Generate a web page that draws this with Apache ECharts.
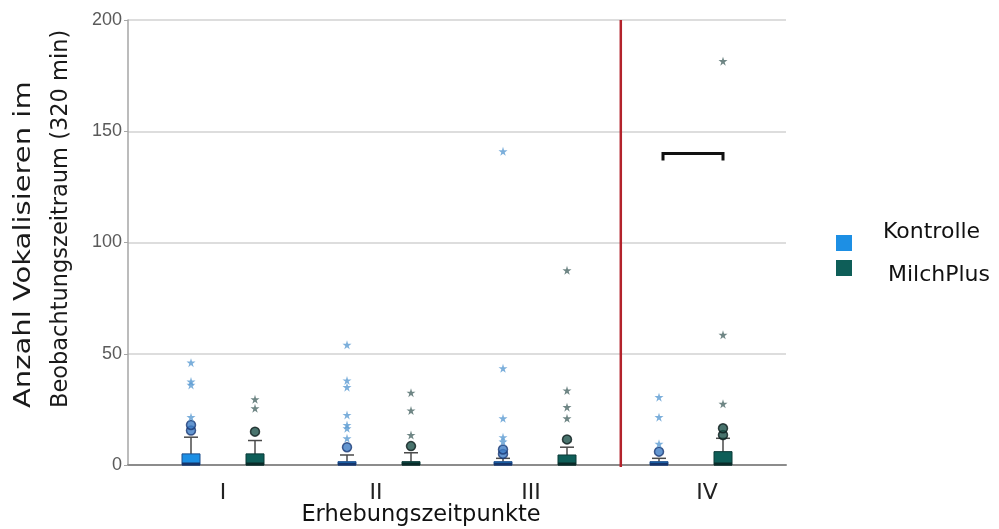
<!DOCTYPE html>
<html><head><meta charset="utf-8">
<script src="https://cdn.jsdelivr.net/npm/echarts@6/dist/echarts.min.js"></script>
<style>html,body{margin:0;padding:0;background:#fff}#c{width:999px;height:529px}</style>
</head><body><div id="c"></div>
<script>
// ---------------- data ----------------
const categories = ['I', 'II', 'III', 'IV'];
const seriesNames = ['Kontrolle', 'MilchPlus'];
const yTicks = [0, 50, 100, 150, 200];
// box statistics per time point: [min, Q1, median, Q3, max]
const kontrolleBox = [[0, 0, 0, 5, 12.5], [0, 0, 0, 1.5, 4.5], [0, 0, 0, 1.5, 3], [0, 0, 0, 1.5, 3]];
const milchBox     = [[0, 0, 0, 5, 11],   [0, 0, 0, 1.5, 5.5], [0, 0, 0, 4.5, 8], [0, 0, 0, 6, 12]];
// outliers (circles) and extreme values (stars)
const kontrolleCircles = [[15.5, 18], [8], [5, 7], [6]];
const kontrolleStars   = [[21.5, 36, 37.5, 46], [12, 16.5, 18, 22.5, 35, 38, 54], [10.5, 12.5, 21, 43.5, 141], [9.5, 21.5, 30.5]];
const milchCircles     = [[15], [8.5], [11.5], [13.5, 16.5]];
const milchStars       = [[25.5, 29.5], [13.5, 24.5, 32.5], [21, 26, 33.5, 87.5], [27.5, 58.5, 181.5]];
// significance bracket at time point IV, and divider after time point III
const bracketCategory = 'IV';
const bracketValues = [140, 136.8];
const dividerAfter = 'III';

// ---------------- styling ----------------
const FONT = 'DejaVu Sans';
const OFF = 32;        // px offset of each group's box from category centre
const BOXW = 18;
const colors = {
  Kontrolle: {fill: '#1d8fe4', border: '#1f4f8c', median: '#16346a', star: '#5b9bd2', cFill: '#3d7cc4', cBorder: '#1b3a74'},
  MilchPlus: {fill: '#0e5e58', border: '#0b3a37', median: '#0a2b29', star: '#4b6866', cFill: '#1b5048', cBorder: '#0c1c1b'}
};
const STAR = 'path://M50,0 L61,35 L98,35 L68,57 L79,91 L50,70 L21,91 L32,57 L2,35 L39,35 Z';
const labelPad = {I: [0, 0, 0, 0], II: [0, 6, 0, 0], III: [0, 8, 0, 0], IV: [0, 0, 0, 32]};

function boxSeries(name, boxes, offset) {
  const c = colors[name];
  return {
    type: 'custom', name: name, xAxisIndex: 1, yAxisIndex: 1,
    itemStyle: {color: c.fill},
    encode: {x: 0, y: [1, 2, 3, 4, 5]},
    data: boxes.map((b, i) => [i].concat(b)),
    renderItem: function (params, api) {
      const i = api.value(0);
      const xc = api.coord([i, 0])[0] + offset;
      const y = k => api.coord([i, api.value(k)])[1];
      const yMin = y(1), yQ1 = y(2), yMed = y(3), yQ3 = y(4), yMax = y(5);
      return {type: 'group', children: [
        {type: 'line', shape: {x1: xc, y1: yQ3, x2: xc, y2: yMax}, style: {stroke: '#4a4a4a', lineWidth: 1.5}},
        {type: 'line', shape: {x1: xc - 7, y1: yMax, x2: xc + 7, y2: yMax}, style: {stroke: '#4a4a4a', lineWidth: 1.5}},
        {type: 'line', shape: {x1: xc, y1: yMin, x2: xc, y2: yQ1}, style: {stroke: '#4a4a4a', lineWidth: 1.5}},
        {type: 'rect', shape: {x: xc - BOXW / 2, y: yQ3, width: BOXW, height: Math.max(yQ1 - yQ3, 1)},
          style: {fill: c.fill, stroke: c.border, lineWidth: 1}},
        {type: 'line', shape: {x1: xc - BOXW / 2, y1: yMed - 1, x2: xc + BOXW / 2, y2: yMed - 1}, style: {stroke: c.median, lineWidth: 3}}
      ]};
    },
    z: 3
  };
}

function pointSeries(name, lists, offset, kind) {
  const c = colors[name];
  const data = [];
  lists.forEach((arr, i) => arr.forEach(v => data.push([categories[i], v])));
  return {
    type: 'scatter', name: name + (kind === 'star' ? ' Extremwerte' : ' Ausreißer'),
    xAxisIndex: 1, yAxisIndex: 1,
    symbol: kind === 'star' ? STAR : 'circle',
    symbolSize: 9,
    symbolOffset: [offset, 0],
    itemStyle: kind === 'star' ? {color: c.star} : {color: c.cFill, borderColor: c.cBorder, borderWidth: 1.5},
    data: data, z: 4
  };
}

const richLabels = {};
categories.forEach((c, i) => { richLabels['c' + i] = {fontFamily: FONT, fontSize: 22, color: '#222', padding: labelPad[c]}; });

const chart = echarts.init(document.getElementById('c'), null, {renderer: 'canvas'});
chart.setOption({
  animation: false,
  backgroundColor: '#fff',
  grid: [
    {left: 128, right: 213, top: 20, bottom: 64, containLabel: false, outerBoundsMode: 'none'},
    {left: 145, right: 230, top: 20, bottom: 64, containLabel: false, outerBoundsMode: 'none'}
  ],
  xAxis: [
    {gridIndex: 0, type: 'value', min: 0, max: 1, axisLabel: {show: false}, axisTick: {show: false}, splitLine: {show: false},
      axisLine: {show: true, lineStyle: {color: '#8c8c8c', width: 2}}},
    {gridIndex: 1, type: 'category', data: categories,
      axisLine: {show: false}, axisTick: {show: false},
      axisLabel: {fontFamily: FONT, fontSize: 22, color: '#222', margin: 17,
        formatter: (v) => '{c' + categories.indexOf(v) + '|' + v + '}', rich: richLabels},
      name: 'Erhebungszeitpunkte', nameLocation: 'middle', nameGap: 39, nameMoveOverlap: false,
      nameTextStyle: {fontFamily: FONT, fontSize: 22.5, color: '#111', padding: [0, 72, 0, 0]}}
  ],
  yAxis: [
    {gridIndex: 0, type: 'value', min: yTicks[0], max: yTicks[yTicks.length - 1], interval: yTicks[1] - yTicks[0],
      axisLine: {show: true, lineStyle: {color: '#a6a6a6', width: 1.5}},
      axisTick: {show: true, length: 4, lineStyle: {color: '#a6a6a6'}},
      axisLabel: {fontFamily: "'Liberation Sans'", fontSize: 18, color: '#5a5a5a', margin: 6},
      splitLine: {show: true, lineStyle: {color: '#d2d2d2', width: 1.5}}},
    {gridIndex: 1, type: 'value', min: yTicks[0], max: yTicks[yTicks.length - 1], show: false}
  ],
  legend: [
    {data: [{name: 'Kontrolle', icon: 'rect'}], orient: 'vertical', left: 831, top: 216, itemWidth: 16, itemHeight: 16,
      formatter: n => '{t|' + n + '}',
      textStyle: {rich: {t: {fontFamily: FONT, fontSize: 22, color: '#111', padding: [0, 0, 22, 26]}}}},
    {data: [{name: 'MilchPlus', icon: 'rect'}], orient: 'vertical', left: 831, top: 255, itemWidth: 16, itemHeight: 16,
      formatter: n => '{t|' + n + '}',
      textStyle: {rich: {t: {fontFamily: FONT, fontSize: 22, color: '#111', padding: [14, 0, 0, 31]}}}}
  ],
  graphic: [
    {type: 'text', x: 24, y: 408, rotation: Math.PI / 2, scaleX: 1.29,
      style: {text: 'Anzahl Vokalisieren im', font: '22.5px "DejaVu Sans"', fill: '#1a1a1a', align: 'left', verticalAlign: 'middle'}},
    {type: 'text', x: 61, y: 408, rotation: Math.PI / 2,
      style: {text: 'Beobachtungszeitraum (320 min)', font: '22.5px "DejaVu Sans"', fill: '#1a1a1a', align: 'left', verticalAlign: 'middle'}}
  ],
  series: [
    {
      type: 'custom', name: 'divider', xAxisIndex: 1, yAxisIndex: 1, silent: true,
      data: [[categories.indexOf(dividerAfter), yTicks[yTicks.length - 1], yTicks[0]]],
      renderItem: function (params, api) {
        const i = api.value(0);
        const x = api.coord([i, 0])[0] + api.size([1, 0])[0] * 0.55;
        const yt = api.coord([i, api.value(1)])[1];
        const yb = api.coord([i, api.value(2)])[1];
        return {type: 'line', shape: {x1: x, y1: yt, x2: x, y2: yb + 2}, style: {stroke: '#b3222b', lineWidth: 2.5}};
      }, z: 2
    },
    boxSeries('Kontrolle', kontrolleBox, -OFF),
    boxSeries('MilchPlus', milchBox, OFF),
    pointSeries('Kontrolle', kontrolleCircles, -OFF, 'circle'),
    pointSeries('Kontrolle', kontrolleStars, -OFF, 'star'),
    pointSeries('MilchPlus', milchCircles, OFF, 'circle'),
    pointSeries('MilchPlus', milchStars, OFF, 'star'),
    {
      type: 'custom', name: 'bracket', xAxisIndex: 1, yAxisIndex: 1, silent: true,
      data: [[categories.indexOf(bracketCategory), bracketValues[0], bracketValues[1]]],
      renderItem: function (params, api) {
        const i = api.value(0);
        const xc = api.coord([i, 0])[0];
        const yt = api.coord([i, api.value(1)])[1];
        const yb = api.coord([i, api.value(2)])[1];
        return {type: 'polyline', shape: {points: [[xc - OFF + 4, yb], [xc - OFF + 4, yt], [xc + OFF, yt], [xc + OFF, yb]]},
          style: {stroke: '#111', lineWidth: 3, fill: null}};
      }, z: 5
    }
  ]
});
</script></body></html>
